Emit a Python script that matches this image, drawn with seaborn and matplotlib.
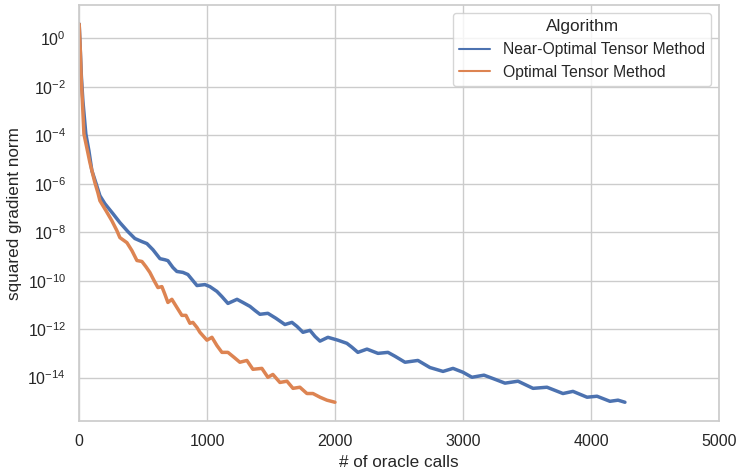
import numpy as np
import pandas as pd
import matplotlib
matplotlib.use("Agg")
import matplotlib.pyplot as plt
import seaborn as sns

near_x = [0, 9, 17, 29, 52, 76, 99, 130, 162, 201, 263, 318, 380, 435, 490, 529, 576, 631,
          670, 693, 732, 763, 810, 849, 920, 982, 1021, 1076, 1115, 1162, 1233, 1279, 1334,
          1373, 1412, 1474, 1537, 1607, 1662, 1701, 1748, 1803, 1842, 1881, 1943, 2021, 2091,
          2130, 2177, 2248, 2334, 2412, 2467, 2545, 2646, 2740, 2842, 2920, 2998, 3068, 3162,
          3248, 3326, 3428, 3545, 3654, 3779, 3857, 3967, 4045, 4146, 4209, 4263]
near_y = [3.9e0, 3.0e-1, 2.8e-2, 2.6e-3, 1.15e-4, 2.3e-5, 3.5e-6, 1.1e-6, 3.2e-7, 1.5e-7,
          5.9e-8, 2.5e-8, 1.07e-8, 5.5e-9, 4.1e-9, 3.4e-9, 1.9e-9, 8.1e-10, 7.3e-10, 6.7e-10,
          3.5e-10, 2.4e-10, 2.2e-10, 1.8e-10, 6.3e-11, 6.9e-11, 5.7e-11, 3.6e-11, 2.2e-11,
          1.15e-11, 1.7e-11, 1.26e-11, 8.7e-12, 5.9e-12, 4.1e-12, 4.5e-12, 2.8e-12, 1.55e-12,
          1.9e-12, 1.3e-12, 7.4e-13, 8.9e-13, 5.0e-13, 3.2e-13, 4.6e-13, 3.5e-13, 2.6e-13,
          1.8e-13, 1.1e-13, 1.5e-13, 1.0e-13, 1.1e-13, 7.6e-14, 4.3e-14, 5.1e-14, 2.6e-14,
          1.8e-14, 2.4e-14, 1.66e-14, 1.03e-14, 1.26e-14, 8.5e-15, 5.9e-15, 7.1e-15, 3.6e-15,
          4.0e-15, 2.2e-15, 2.7e-15, 1.55e-15, 1.7e-15, 1.05e-15, 1.17e-15, 9.6e-16]

opt_x = [0, 9, 17, 25, 37, 84, 123, 146, 162, 209, 255, 295, 318, 373, 412, 451, 490, 521,
         552, 584, 615, 646, 670, 693, 724, 763, 802, 834, 865, 888, 920, 943, 998, 1037,
         1076, 1115, 1162, 1209, 1255, 1310, 1357, 1427, 1474, 1513, 1568, 1623, 1670, 1724,
         1779, 1826, 1881, 1935, 1998]
opt_y = [3.9e0, 3.0e-1, 1.7e-2, 2.6e-3, 1.15e-4, 7.4e-6, 1.1e-6, 4.3e-7, 2.0e-7, 7.8e-8,
         3.0e-8, 1.15e-8, 6.0e-9, 3.7e-9, 1.74e-9, 6.8e-10, 6.2e-10, 3.8e-10, 2.2e-10,
         1.03e-10, 5.2e-11, 5.7e-11, 2.7e-11, 1.26e-11, 1.7e-11, 7.9e-12, 3.7e-12, 3.7e-12,
         1.74e-12, 1.9e-12, 1.17e-12, 7.4e-13, 3.5e-13, 4.6e-13, 2.1e-13, 1.1e-13, 1.1e-13,
         6.9e-14, 4.3e-14, 5.1e-14, 2.2e-14, 2.4e-14, 1.03e-14, 1.35e-14, 6.3e-15, 7.1e-15,
         3.6e-15, 4.0e-15, 2.2e-15, 2.2e-15, 1.55e-15, 1.17e-15, 9.6e-16]

algorithms = ["Near-Optimal Tensor Method", "Optimal Tensor Method"]
x_ticks = [0, 1000, 2000, 3000, 4000, 5000]

df = pd.concat([
    pd.DataFrame({"# of oracle calls": near_x, "squared gradient norm": near_y, "Algorithm": algorithms[0]}),
    pd.DataFrame({"# of oracle calls": opt_x, "squared gradient norm": opt_y, "Algorithm": algorithms[1]}),
], ignore_index=True)

sns.set_theme(style="whitegrid")
plt.rcParams["font.family"] = ["Liberation Sans", "DejaVu Sans"]
plt.rcParams["mathtext.fontset"] = "custom"
plt.rcParams["mathtext.rm"] = "Liberation Sans"
plt.rcParams["mathtext.it"] = "Liberation Sans:italic"
plt.rcParams["mathtext.bf"] = "Liberation Sans:bold"
plt.rcParams["lines.solid_joinstyle"] = "round"
plt.rcParams["lines.solid_capstyle"] = "round"

fig, ax = plt.subplots(figsize=(7.4, 4.69), dpi=100)
sns.lineplot(data=df, x="# of oracle calls", y="squared gradient norm", hue="Algorithm",
             hue_order=algorithms, linewidth=2.5, ax=ax)
ax.set_yscale("log")
ax.set_xlim(0, 5000)
ax.set_xticks(x_ticks)
ax.set_yticks([10.0**k for k in range(0, -15, -2)])
ax.yaxis.set_minor_locator(matplotlib.ticker.NullLocator())
ax.tick_params(labelsize=11.5)
ax.xaxis.label.set_size(12.3)
ax.yaxis.label.set_size(12.3)
sns.move_legend(ax, "upper right", title="Algorithm", fontsize=11.3, title_fontsize=12.4)
for line in ax.get_legend().get_lines():
    line.set_linewidth(1.5)
fig.subplots_adjust(left=0.107, right=0.972, top=0.989, bottom=0.102)
fig.savefig("out.png", dpi=100)
